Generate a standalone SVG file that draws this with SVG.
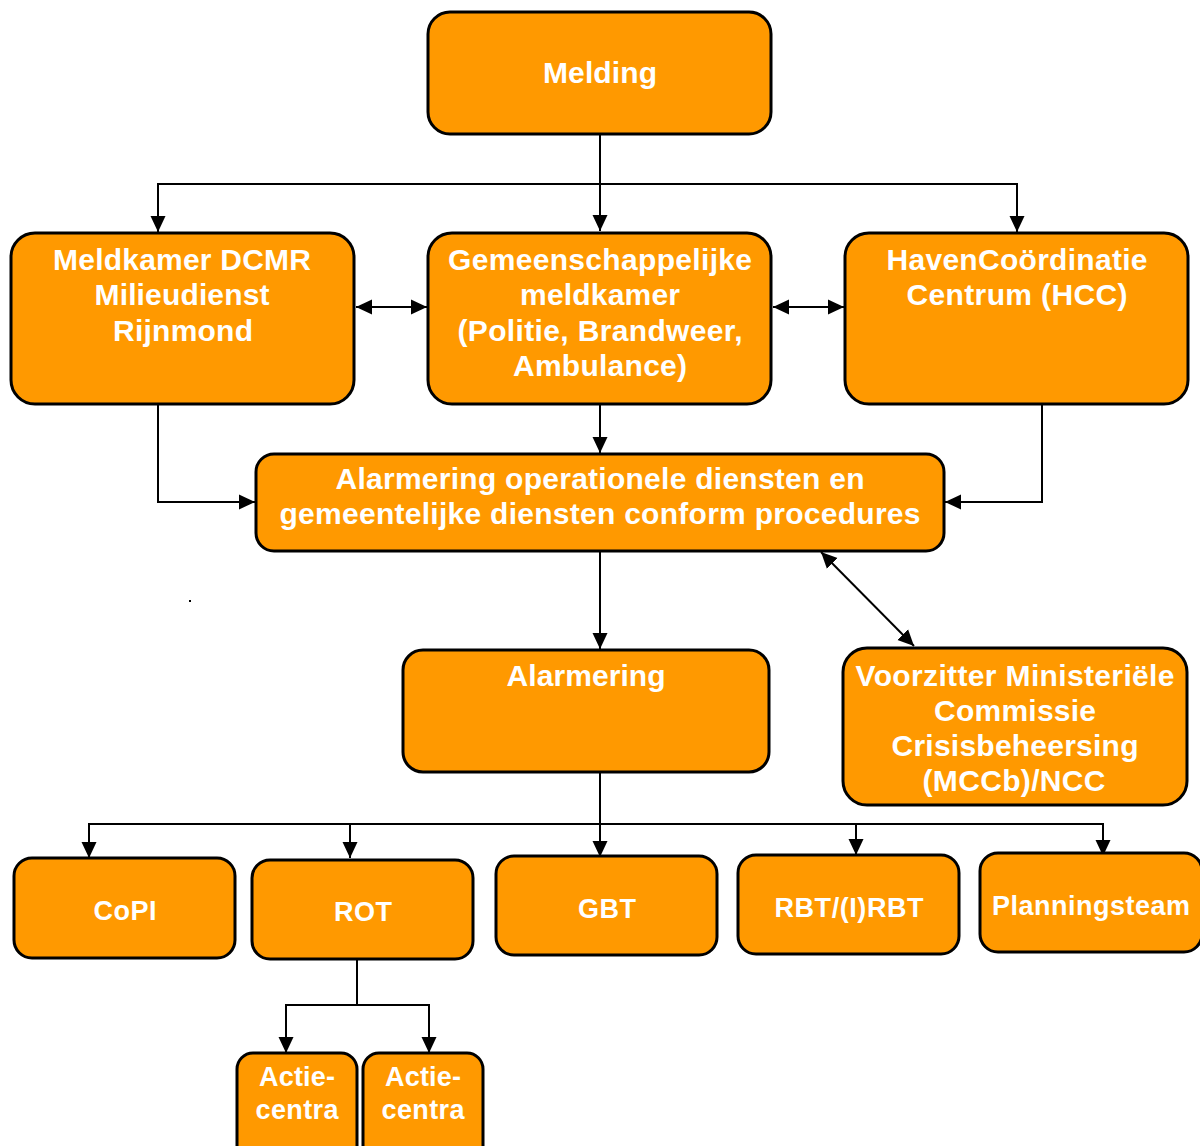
<svg xmlns="http://www.w3.org/2000/svg" width="1200" height="1146" viewBox="0 0 1200 1146">
<style>
.box{fill:#FF9900;stroke:#000;stroke-width:3}
.t{font-family:"Liberation Sans",Arial,sans-serif;font-weight:bold;font-size:30px;fill:#fff;text-anchor:middle}
.s{font-size:27px}
.c{fill:none;stroke:#000;stroke-width:2}
</style>
<defs>
<marker id="ab" markerWidth="16" markerHeight="16" refX="16" refY="8" orient="auto-start-reverse" markerUnits="userSpaceOnUse" viewBox="0 0 16 16">
<path d="M0,0.5 L16,8 L0,15.5 Z" fill="#000"/>
</marker>
</defs>
<rect width="1200" height="1146" fill="#fff"/>
<g id="connectors">
<path class="c" d="M600,134 V231" marker-end="url(#ab)"/>
<path class="c" d="M158,232 V184 H1017 V232" marker-start="url(#ab)" marker-end="url(#ab)"/>
<path class="c" d="M356,307 H427" marker-start="url(#ab)" marker-end="url(#ab)"/>
<path class="c" d="M773,307 H844" marker-start="url(#ab)" marker-end="url(#ab)"/>
<path class="c" d="M158,404 V502 H255" marker-end="url(#ab)"/>
<path class="c" d="M1042,404 V502 H945" marker-end="url(#ab)"/>
<path class="c" d="M600,404 V453" marker-end="url(#ab)"/>
<path class="c" d="M600,551 V649" marker-end="url(#ab)"/>
<path class="c" d="M821,552 L914,646" marker-start="url(#ab)" marker-end="url(#ab)"/>
<path class="c" d="M600,772 V857" marker-end="url(#ab)"/>
<path class="c" d="M89,858 V824 H1103 V856" marker-start="url(#ab)" marker-end="url(#ab)"/>
<path class="c" d="M350,824 V858" marker-end="url(#ab)"/>
<path class="c" d="M856,824 V855" marker-end="url(#ab)"/>
<path class="c" d="M357,959 V1005"/>
<path class="c" d="M286,1053 V1005 H429 V1053" marker-start="url(#ab)" marker-end="url(#ab)"/>
</g>
<g id="melding"><rect class="box" x="428" y="12" width="343" height="122" rx="22"/><text class="t" x="600" y="83" textLength="114">Melding</text></g>
<g id="dcmr"><rect class="box" x="11" y="233" width="343" height="171" rx="24"/>
<text class="t" x="182" y="270" textLength="258">Meldkamer DCMR</text><text class="t" x="182" y="305" textLength="175">Milieudienst</text><text class="t" x="183" y="341" textLength="140">Rijnmond</text></g>
<g id="gms"><rect class="box" x="428" y="233" width="343" height="171" rx="24"/>
<text class="t" x="600" y="270" textLength="304">Gemeenschappelijke</text><text class="t" x="600" y="305" textLength="160">meldkamer</text><text class="t" x="600" y="341" textLength="285">(Politie, Brandweer,</text><text class="t" x="600" y="376" textLength="174">Ambulance)</text></g>
<g id="hcc"><rect class="box" x="845" y="233" width="343" height="171" rx="24"/>
<text class="t" x="1017" y="270" textLength="261">HavenCoördinatie</text><text class="t" x="1017" y="305" textLength="221">Centrum (HCC)</text></g>
<g id="alarmering-op"><rect class="box" x="256" y="454" width="688" height="97" rx="18"/>
<text class="t" x="600" y="489" textLength="529">Alarmering operationele diensten en</text><text class="t" x="600" y="524" textLength="641">gemeentelijke diensten conform procedures</text></g>
<g id="alarmering"><rect class="box" x="403" y="650" width="366" height="122" rx="20"/><text class="t" x="586" y="686" textLength="159">Alarmering</text></g>
<g id="mccb"><rect class="box" x="843" y="648" width="344" height="157" rx="24"/>
<text class="t" x="1015" y="686" textLength="319">Voorzitter Ministeriële</text><text class="t" x="1015" y="721" textLength="162">Commissie</text><text class="t" x="1015" y="756" textLength="247">Crisisbeheersing</text><text class="t" x="1014" y="791" textLength="183">(MCCb)/NCC</text></g>
<g id="copi"><rect class="box" x="14" y="858" width="221" height="100" rx="18"/><text class="t s" x="125" y="920" textLength="63">CoPI</text></g>
<g id="rot"><rect class="box" x="252" y="860" width="221" height="99" rx="18"/><text class="t s" x="363" y="921" textLength="58">ROT</text></g>
<g id="gbt"><rect class="box" x="496" y="856" width="221" height="99" rx="18"/><text class="t s" x="607" y="918" textLength="58">GBT</text></g>
<g id="rbt"><rect class="box" x="738" y="855" width="221" height="99" rx="18"/><text class="t s" x="849" y="917" textLength="149">RBT/(I)RBT</text></g>
<g id="planningsteam"><rect class="box" x="980" y="853" width="222" height="99" rx="18"/><text class="t s" x="1091" y="915" textLength="198">Planningsteam</text></g>
<g id="actie1"><rect class="box" x="237" y="1053" width="120" height="110" rx="16"/><text class="t s" x="297" y="1086" textLength="76">Actie-</text><text class="t s" x="297" y="1119" textLength="83">centra</text></g>
<g id="actie2"><rect class="box" x="363" y="1053" width="120" height="110" rx="16"/><text class="t s" x="423" y="1086" textLength="76">Actie-</text><text class="t s" x="423" y="1119" textLength="83">centra</text></g>
<rect x="189" y="600" width="2" height="2" fill="#000"/>
</svg>
